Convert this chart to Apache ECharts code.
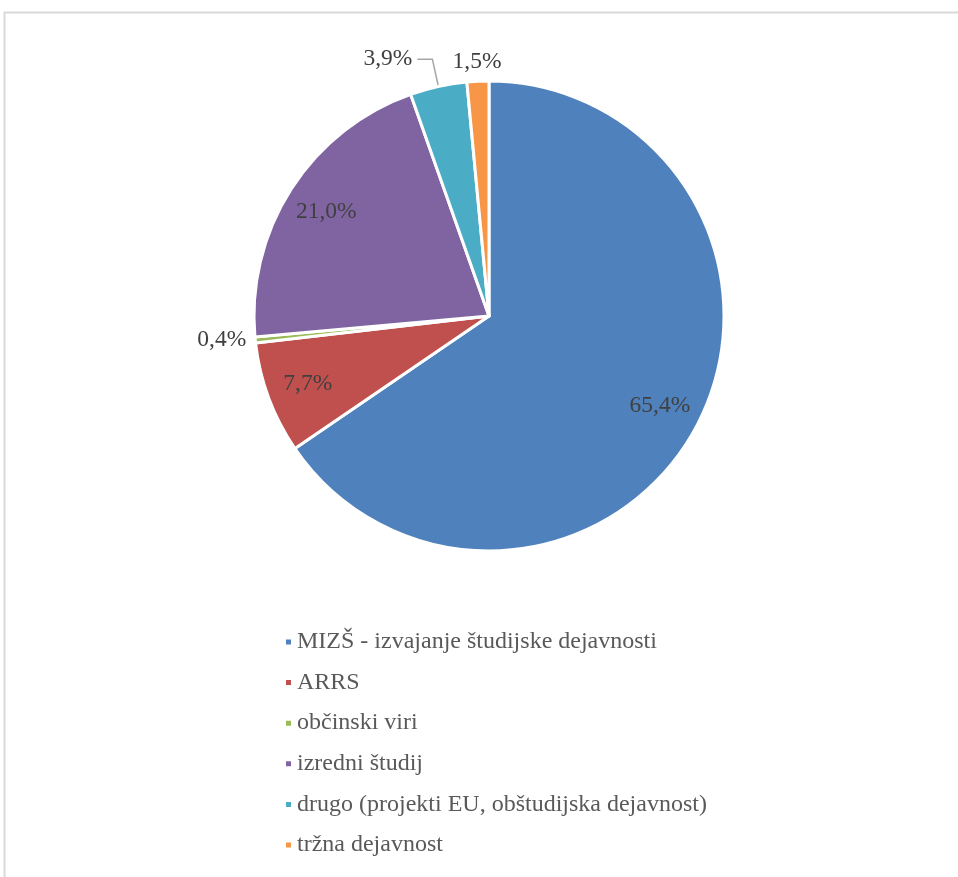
<!DOCTYPE html>
<html>
<head>
<meta charset="utf-8">
<script src="https://cdn.jsdelivr.net/npm/echarts@6/dist/echarts.min.js"></script>
<style>
html,body{margin:0;padding:0;background:#fff;}
#chart{width:958px;height:877px;}
</style>
</head>
<body>
<div id="chart"></div>
<script>
const categories = [
  'MIZŠ - izvajanje študijske dejavnosti',
  'ARRS',
  'občinski viri',
  'izredni študij',
  'drugo (projekti EU, obštudijska dejavnost)',
  'tržna dejavnost'
];
const shares = [65.4, 7.7, 0.4, 21.0, 3.9, 1.5];
const colors = ['#4F81BD', '#C0504D', '#9BBB59', '#8064A2', '#4BACC6', '#F79646'];
const insideLabelIdx = [0, 1, 3];

const fmt = v => v.toFixed(1).replace('.', ',') + '%';
const FONT = '"Liberation Serif", "Times New Roman", serif';
const CX = 489, CY = 316, R = 235;

const outsideCfg = {
  2: { length: 2, length2: 2, show: false },
  4: { length: 28, length2: 15, show: true },
  5: { length: 19, length2: 0, show: false }
};

const mainData = categories.map((name, i) => {
  const item = { name, value: shares[i], itemStyle: { color: colors[i] } };
  if (outsideCfg[i]) {
    item.label = { show: true };
    item.labelLine = {
      show: outsideCfg[i].show,
      length: outsideCfg[i].length,
      length2: outsideCfg[i].length2
    };
  } else {
    item.label = { show: false };
    item.labelLine = { show: false };
  }
  return item;
});

const overlayData = categories.map((name, i) => ({
  name, value: shares[i],
  label: { show: insideLabelIdx.includes(i) }
}));

const chart = echarts.init(document.getElementById('chart'), null, { renderer: 'canvas' });
chart.setOption({
  animation: false,
  backgroundColor: '#fff',
  color: colors,
  graphic: [{
    type: 'rect',
    shape: { x: 4.5, y: 12.5, width: 1200, height: 1200 },
    style: { fill: 'none', stroke: '#d9d9d9', lineWidth: 2 },
    silent: true, z: 0
  }],
  legend: {
    orient: 'vertical',
    left: 284,
    top: 630,
    padding: 0,
    icon: 'rect',
    itemWidth: 7,
    itemHeight: 7,
    itemGap: 16.6,
    data: categories,
    textStyle: { fontFamily: FONT, fontSize: 24, color: '#595959', lineHeight: 24 }
  },
  series: [
    {
      type: 'pie',
      center: [CX, CY],
      radius: [0, R],
      startAngle: 90,
      clockwise: true,
      avoidLabelOverlap: false,
      silent: true,
      itemStyle: { borderColor: '#fff', borderWidth: 3 },
      label: {
        position: 'outside',
        formatter: p => fmt(p.value),
        fontFamily: FONT, fontSize: 23.5, color: '#404040'
      },
      labelLine: { lineStyle: { color: '#a6a6a6', width: 1.5 }, smooth: false },
      labelLayout: p => {
        if (p.dataIndex === 5) return { dx: p.labelRect.width / 2 + 5 };
        return {};
      },
      emphasis: { disabled: true },
      data: mainData
    },
    {
      type: 'pie',
      center: [CX, CY],
      radius: [R * 0.62, R],
      startAngle: 90,
      clockwise: true,
      silent: true,
      itemStyle: { color: 'transparent', borderWidth: 0 },
      label: {
        position: 'inside',
        formatter: p => fmt(p.value),
        fontFamily: FONT, fontSize: 23.5, color: '#404040'
      },
      labelLine: { show: false },
      emphasis: { disabled: true },
      z: 3,
      data: overlayData
    }
  ]
});
</script>
</body>
</html>
